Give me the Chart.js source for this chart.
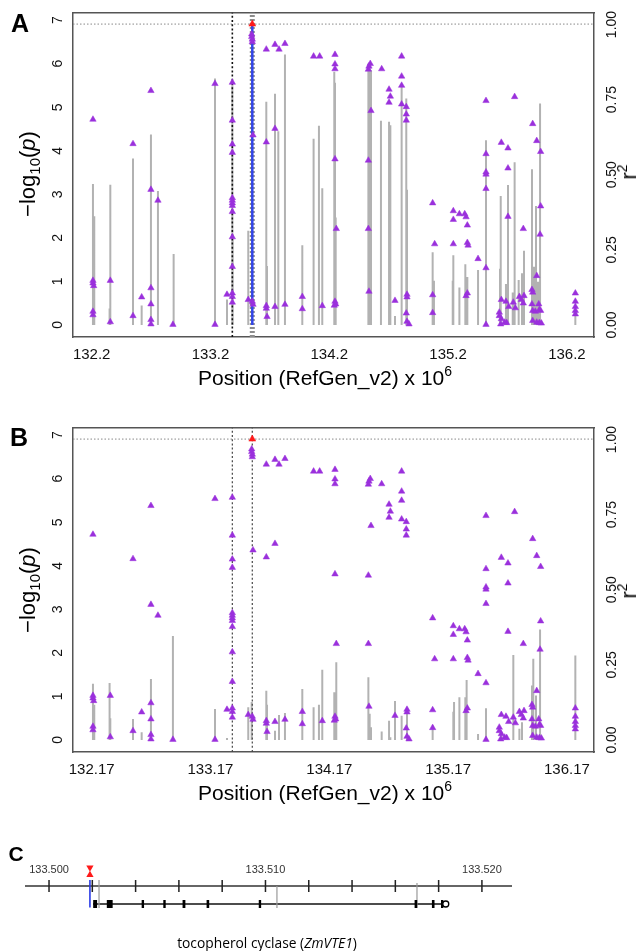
<!DOCTYPE html>
<html>
<head>
<meta charset="utf-8">
<script src="https://cdn.jsdelivr.net/npm/chart.js@4.4.1/dist/chart.umd.min.js"></script>
<style>
  body { margin: 0; background: #fff; width: 644px; height: 951px; position: relative; overflow: hidden;
         font-family: "Liberation Sans", Arial, sans-serif; }
  canvas { position: absolute; left: 0; }
  .t { position: absolute; transform: translate(-50%, -50%); white-space: nowrap; color: #000; line-height: 1; }
  .rot { transform: translate(-50%, -50%) rotate(-90deg); }
  .panel { font-weight: bold; font-size: 25px; }
  .ttl { font-size: 21px; }
  .ytl { font-size: 22px; }
  .sub { font-size: 15px; position: relative; top: 5px; }
  .sup { font-size: 14px; position: relative; top: -9px; }
  .cap { font-family: "Open Sans", sans-serif; font-size: 13.8px; }
</style>
</head>
<body>
<canvas id="chartA" width="644" height="400" style="top:0"></canvas>
<canvas id="chartB" width="644" height="400" style="top:415px"></canvas>
<canvas id="chartC" width="644" height="131" style="top:820px"></canvas>

<div class="t panel" style="left:20px;top:23px">A</div>
<div class="t ytl rot" style="left:28px;top:174px">−log<span class="sub">10</span>(<i>p</i>)</div>
<div class="t ytl rot" style="left:629px;top:172px">r<span class="sup">2</span></div>
<div class="t ttl" style="left:325px;top:377px">Position (RefGen_v2) x 10<span class="sup">6</span></div>

<div class="t panel" style="left:19px;top:437px">B</div>
<div class="t ytl rot" style="left:28px;top:590px">−log<span class="sub">10</span>(<i>p</i>)</div>
<div class="t ytl rot" style="left:629px;top:591px">r<span class="sup">2</span></div>
<div class="t ttl" style="left:325px;top:792px">Position (RefGen_v2) x 10<span class="sup">6</span></div>

<div class="t panel" style="left:16px;top:853px;font-size:21px">C</div>
<div class="t cap" style="left:267px;top:943px">tocopherol cyclase (<i>ZmVTE1</i>)</div>

<script>
const FONT = '"Liberation Sans", Arial, sans-serif';

// axes (Mb on x, -log10(p) on the left, r2 on the right)
const xMin = 132.043, xMax = 136.428;
const yMin = -0.276, yMax = 7.176;
const r2Min = -0.04, r2Max = 1.04;
const xTicks = [132.2, 133.2, 134.2, 135.2, 136.2];
const xTickLabelsA = ['132.2', '133.2', '134.2', '135.2', '136.2'];
const xTickLabelsB = ['132.17', '133.17', '134.17', '135.17', '136.17'];
const yTicks = [0, 1, 2, 3, 4, 5, 6, 7];
const r2Ticks = [0, 0.25, 0.5, 0.75, 1];

const threshold = 6.91;
const markerPos = 133.384;
const leadPos = [133.552];
const leadLogP = [6.91];

// SNP association (-log10 p), same in A and B
const snpPos = [
  132.211, 132.211, 132.211, 132.217, 132.211, 132.211,
  132.357, 132.357, 132.548, 132.548, 132.621,
  132.699, 132.699, 132.699, 132.699, 132.699, 132.699, 132.758, 132.884,
  133.238, 133.238, 133.339,
  133.384, 133.384, 133.384, 133.384, 133.384, 133.384, 133.384,
  133.384, 133.384, 133.384, 133.384, 133.384, 133.384, 133.384,
  133.518, 133.547, 133.547, 133.552, 133.552, 133.558, 133.552, 133.558,
  133.670, 133.670, 133.670, 133.670, 133.676,
  133.743, 133.743, 133.743, 133.777, 133.827, 133.827, 133.973, 133.973,
  134.068, 134.119, 134.141,
  134.248, 134.248, 134.248, 134.248, 134.248, 134.259, 134.254, 134.242,
  134.529, 134.529, 134.529, 134.534, 134.534, 134.545, 134.551,
  134.641, 134.703, 134.703, 134.714, 134.753,
  134.809, 134.809, 134.809, 134.809, 134.848, 134.848, 134.848, 134.848,
  134.854, 134.854, 134.854, 134.871,
  135.070, 135.070, 135.070, 135.087,
  135.244, 135.244, 135.244, 135.295, 135.340, 135.351, 135.351,
  135.362, 135.362, 135.362, 135.368, 135.452,
  135.519, 135.519, 135.519, 135.519, 135.519, 135.519, 135.519,
  135.631, 135.631, 135.643, 135.648, 135.648, 135.648, 135.676, 135.687, 135.693,
  135.704, 135.704, 135.704, 135.710, 135.749, 135.760, 135.766, 135.800,
  135.816, 135.833, 135.833, 135.839,
  135.906, 135.906, 135.912, 135.912, 135.912, 135.912, 135.934,
  135.946, 135.946, 135.946, 135.963, 135.968, 135.968, 135.974,
  135.979, 135.979, 135.979, 135.985,
  136.271, 136.271, 136.271, 136.271, 136.271
];
const snpLogP = [
  4.72, 1.02, 0.96, 0.90, 0.31, 0.23,
  1.02, 0.07, 4.16, 0.21, 0.64,
  5.38, 3.11, 0.85, 0.48, 0.12, 0.02, 2.86, 0.01,
  5.54, 0.01, 0.70,
  5.57, 4.70, 4.15, 3.96, 2.92, 2.86, 2.80,
  2.74, 2.60, 2.02, 1.34, 0.73, 0.65, 0.52,
  0.58, 6.68, 6.62, 6.56, 6.50, 4.36, 0.54, 0.47,
  6.33, 4.20, 0.44, 0.38, 0.19,
  6.44, 4.51, 0.42, 6.33, 6.46, 0.47, 0.65, 0.37,
  6.17, 6.17, 0.44,
  6.21, 5.99, 5.88, 3.81, 0.54, 2.21, 0.48, 0.45,
  5.87, 3.78, 2.21, 5.94, 0.77, 6.00, 4.92,
  5.88, 5.41, 5.11, 5.25, 0.56,
  6.17, 5.71, 5.50, 5.07, 5.01, 4.84, 4.70, 0.27,
  0.70, 0.64, 0.08, 0.02,
  2.80, 0.69, 0.28, 1.86,
  2.62, 2.42, 1.86, 2.55, 2.55, 2.48, 0.67,
  2.29, 1.89, 0.73, 1.83, 1.52,
  5.15, 3.93, 3.51, 3.46, 3.13, 1.31, 0.01,
  0.29, 0.21, 0.02, 4.19, 0.58, 0.14, 0.06, 0.54, 0.05,
  4.06, 3.60, 2.49, 0.42, 0.52, 5.24, 0.39, 0.65,
  0.58, 2.21, 0.50, 0.67,
  0.81, 0.48, 4.62, 0.75, 0.33, 0.10, 0.31,
  4.23, 1.13, 0.06, 0.48, 0.35, 0.05, 2.08,
  3.98, 2.73, 0.33, 0.04,
  0.73, 0.54, 0.42, 0.33, 0.25
];

// LD (r2) with the lead SNP, panel A
const r2PosA = [
  132.211, 132.222, 132.357, 132.351, 132.548, 132.621, 132.699, 132.758, 132.890,
  133.238, 133.339, 133.384, 133.387, 133.518,
  133.670, 133.676, 133.743, 133.771, 133.827, 133.973, 134.068, 134.113, 134.141,
  134.242, 134.248, 134.254, 134.529, 134.540, 134.551, 134.635, 134.703, 134.714,
  134.753, 134.809, 134.848, 134.854,
  135.070, 135.081, 135.239, 135.244, 135.295, 135.345, 135.362, 135.452, 135.519,
  135.637, 135.643, 135.687, 135.704, 135.744, 135.760, 135.794, 135.822, 135.839,
  135.906, 135.923, 135.940, 135.957, 135.974, 136.271
];
const r2A = [
  0.469, 0.362, 0.467, 0.055, 0.554, 0.065, 0.634, 0.446, 0.236,
  0.820, 0.085, 0.800, 0.300, 0.314,
  0.743, 0.196, 0.770, 0.645, 0.900, 0.265, 0.620, 0.663, 0.455,
  0.843, 0.806, 0.358, 0.870, 0.865, 0.848, 0.680, 0.676, 0.665,
  0.030, 0.800, 0.754, 0.450,
  0.242, 0.147, 0.147, 0.232, 0.125, 0.202, 0.160, 0.183, 0.615,
  0.187, 0.429, 0.136, 0.466, 0.108, 0.542, 0.150, 0.172, 0.247,
  0.518, 0.194, 0.396, 0.144, 0.737, 0.050
];

// r2 in panel B
const r2PosB = [
  132.211, 132.222, 132.351, 132.357, 132.548, 132.621, 132.699, 132.884,
  133.238, 133.339, 133.518, 133.547, 133.670, 133.676, 133.743, 133.777, 133.827,
  133.973, 134.068, 134.113, 134.141, 134.242, 134.259, 134.529, 134.540, 134.551,
  134.641, 134.703, 134.714, 134.753, 134.809, 134.854,
  135.070, 135.244, 135.250, 135.295, 135.345, 135.356, 135.452, 135.519,
  135.648, 135.749, 135.800, 135.822, 135.906, 135.917, 135.940, 135.974, 136.271
];
const r2B = [
  0.187, 0.117, 0.190, 0.072, 0.070, 0.026, 0.203, 0.346,
  0.103, 0.007, 0.109, 0.126, 0.164, 0.117, 0.031, 0.083, 0.090,
  0.170, 0.109, 0.117, 0.234, 0.159, 0.259, 0.209, 0.087, 0.042,
  0.028, 0.064, 0.009, 0.130, 0.081, 0.106,
  0.048, 0.094, 0.126, 0.142, 0.142, 0.200, 0.020, 0.106,
  0.026, 0.283, 0.037, 0.059, 0.181, 0.270, 0.148, 0.368, 0.281
];

// gene model (panel C), Mb
const cMin = 133.49889, cMax = 133.52139;
const cTickMarks = [133.500, 133.502, 133.504, 133.506, 133.508, 133.510,
                    133.512, 133.514, 133.516, 133.518, 133.520];
const cTickLabels = [133.500, 133.510, 133.520];
const geneStart = 133.50203, geneEnd = 133.51835;
const exonStart = [133.50204, 133.50267, 133.50428, 133.50528, 133.50617,
                   133.50728, 133.50969, 133.51689, 133.51769, 133.51811];
const exonEnd = [133.50222, 133.50294, 133.50439, 133.50539, 133.50630,
                 133.50740, 133.50980, 133.51701, 133.51781, 133.51822];
const utrEnd = [133.51833];
const greyPos = [133.50231, 133.51053, 133.51700];
const greyTop = [0.333, 0, 0.167];
const snpMarkPos = 133.50189;

function stems(xs, ys, base) {
  const pts = [];
  xs.forEach((x, i) => { pts.push({x, y: base || 0}, {x, y: ys[i]}, {x, y: null}); });
  return pts;
}
function vline(x, y0, y1) { return [{x, y: y0}, {x, y: y1}]; }

function lineSet(data, color, width, dash, axis, order) {
  return {
    type: 'line', data, borderColor: color, borderWidth: width, borderDash: dash || [],
    pointRadius: 0, yAxisID: axis || 'y', order: order || 0, borderCapStyle: 'butt',
    spanGaps: false, tension: 0
  };
}

// y tick labels turned 90 degrees, as in the R original
const sideLabels = {
  id: 'sideLabels',
  afterDraw(chart) {
    const ctx = chart.ctx;
    ctx.save();
    ctx.fillStyle = '#111';
    ctx.font = '14px ' + FONT;
    ctx.textAlign = 'center';
    ctx.textBaseline = 'middle';
    const put = (x, y, txt) => {
      ctx.save(); ctx.translate(x, y); ctx.rotate(-Math.PI / 2); ctx.fillText(txt, 0, 0); ctx.restore();
    };
    const sy = chart.scales.y, sr = chart.scales.yr;
    yTicks.forEach(v => put(sy.right - 14.5, sy.getPixelForValue(v), String(v)));
    r2Ticks.forEach(v => put(sr.left + 18.5, sr.getPixelForValue(v), v.toFixed(2)));
    ctx.restore();
  }
};

const border = { display: true, color: '#555', width: 1.5 };

function panel(id, barPos, barR2, tickLabels, isA) {
  const snps = snpPos.map((x, i) => ({x, y: snpLogP[i]}));
  const datasets = [
    { type: 'scatter', data: leadPos.map((x, i) => ({x, y: leadLogP[i]})), pointStyle: 'triangle',
      pointRadius: 4, backgroundColor: '#ff1a1a', borderColor: '#ff1a1a', borderWidth: 0.5, order: 0 },
    { type: 'scatter', data: snps, pointStyle: 'triangle', pointRadius: 3.7,
      backgroundColor: '#9a30dc', borderColor: '#9a30dc', borderWidth: 0.5, order: 1 },
    lineSet(vline(markerPos, yMin, yMax), isA ? '#111' : '#444', isA ? 1.6 : 1.2, [2, 2.2], 'y', 3),
    lineSet([{x: xMin, y: threshold}, {x: xMax, y: threshold}], '#888', 1, [1.5, 2], 'y', 7),
    lineSet(stems(barPos, barR2), 'rgba(165,165,165,0.85)', 2, null, 'yr', 10)
  ];
  if (isA) {
    datasets.push(lineSet(stems(leadPos, [1]), '#3346e8', 2.5, null, 'yr', 4));
    datasets.push(lineSet(vline(leadPos[0], yMin, yMax), '#8c8c8c', 5, [2, 2], 'y', 6));
  } else {
    datasets.push(lineSet(vline(leadPos[0], yMin, yMax), '#444', 1.2, [2, 2.2], 'y', 6));
  }

  return new Chart(document.getElementById(id), {
    type: 'scatter',
    data: { datasets },
    plugins: [sideLabels],
    options: {
      responsive: false, animation: false, devicePixelRatio: 1, events: [],
      layout: { padding: 0 },
      plugins: { legend: { display: false }, tooltip: { enabled: false } },
      scales: {
        x: {
          type: 'linear', position: 'bottom', min: xMin, max: xMax,
          afterFit: s => { s.height = 63; },
          afterBuildTicks: s => { s.ticks = xTicks.map(v => ({value: v})); },
          ticks: { callback: (v, i) => tickLabels[i], font: {family: FONT, size: 15}, color: '#111',
                   padding: 0.5, maxRotation: 0, autoSkip: false },
          grid: { display: false }, border
        },
        xt: {
          type: 'linear', axis: 'x', position: 'top',
          afterFit: s => { s.height = 12.5; },
          ticks: { display: false }, grid: { display: false }, border
        },
        y: {
          type: 'linear', position: 'left', min: yMin, max: yMax,
          afterFit: s => { s.width = 73; },
          afterBuildTicks: s => { s.ticks = yTicks.map(v => ({value: v})); },
          ticks: { display: false },
          grid: { display: false }, border
        },
        yr: {
          type: 'linear', axis: 'y', position: 'right', min: r2Min, max: r2Max,
          afterFit: s => { s.width = 50; },
          afterBuildTicks: s => { s.ticks = r2Ticks.map(v => ({value: v})); },
          ticks: { display: false },
          grid: { display: false }, border
        }
      }
    }
  });
}

panel('chartA', r2PosA, r2A, xTickLabelsA, true);
panel('chartB', r2PosB, r2B, xTickLabelsB, false);

// panel C: gene model
const tickSegs = [];
cTickMarks.forEach(x => tickSegs.push({x, y: -0.333}, {x, y: 0.333}, {x, y: null}));
const exonSegs = [];
exonStart.forEach((s, i) => exonSegs.push({x: s, y: -1}, {x: exonEnd[i], y: -1}, {x: exonEnd[i], y: null}));

// the SNP marker sits above the plotting area; a wide transparent border keeps it from being culled
const markerStyle = {
  type: 'scatter', pointStyle: 'triangle', pointRadius: 4.2, backgroundColor: '#ff1a1a',
  borderColor: 'rgba(0,0,0,0)', borderWidth: 10, clip: false, order: 0
};

new Chart(document.getElementById('chartC'), {
  type: 'scatter',
  data: {
    datasets: [
      Object.assign({}, markerStyle, { data: [{x: snpMarkPos, y: 1.02}], pointRotation: 180 }),
      Object.assign({}, markerStyle, { data: [{x: snpMarkPos, y: 0.62}] }),
      { type: 'scatter', data: utrEnd.map(x => ({x, y: -1})), pointStyle: 'circle', pointRadius: 3,
        backgroundColor: '#fff', borderColor: '#000', borderWidth: 1.3, order: 1 },
      lineSet(vline(snpMarkPos, 0.333, -1.2), '#2a3be6', 1.6, null, 'y', 2),
      lineSet(exonSegs, '#000', 8, null, 'y', 3),
      lineSet(stems(greyPos, greyTop, -1.22), '#9a9a9a', 1.2, null, 'y', 4),
      lineSet([{x: geneStart, y: -1}, {x: geneEnd, y: -1}], '#111', 1.3, null, 'y', 5),
      lineSet(tickSegs, '#222', 1.5, null, 'y', 6),
      lineSet([{x: cMin, y: 0}, {x: cMax, y: 0}], '#333', 1.6, null, 'y', 7)
    ]
  },
  options: {
    responsive: false, animation: false, devicePixelRatio: 1, events: [],
    layout: { padding: { left: 25, right: 132, top: 0, bottom: 36 } },
    plugins: { legend: { display: false }, tooltip: { enabled: false } },
    scales: {
      x: {
        type: 'linear', position: 'top', min: cMin, max: cMax,
        afterFit: s => { s.height = 58; },
        afterBuildTicks: s => { s.ticks = cTickLabels.map(v => ({value: v})); },
        ticks: { callback: v => v.toFixed(3), font: {family: FONT, size: 11}, color: '#333',
                 padding: -7, maxRotation: 0, autoSkip: false },
        grid: { display: false }, border: { display: false }
      },
      y: { display: false, min: -1.611, max: 0.444 }
    }
  }
});
</script>
</body>
</html>
